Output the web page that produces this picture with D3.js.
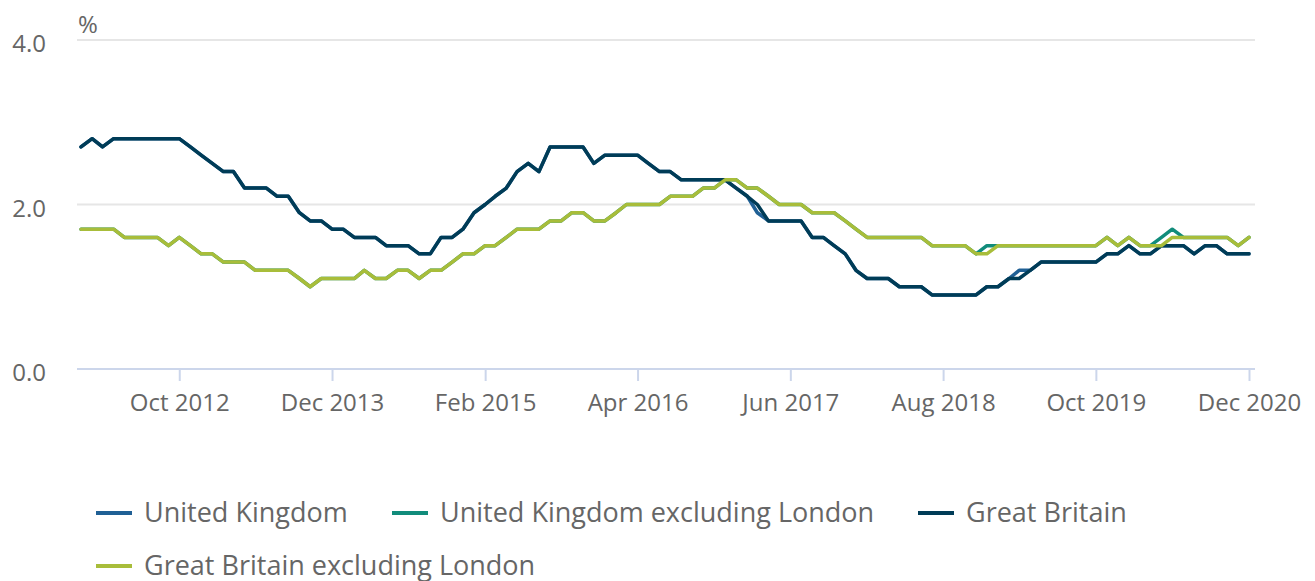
<!DOCTYPE html>
<html>
<head>
<meta charset="utf-8">
<script src="https://cdn.jsdelivr.net/npm/d3@7/dist/d3.min.js"></script>
<style>
  body { margin: 0; background: #fff; }
  text { font-family: "Open Sans", sans-serif; fill: #666; }
</style>
</head>
<body>
<div id="main"></div>
<script>
const W = 1315, H = 581;

// monthly, Jan 2012 .. Dec 2020
const firstMonth = "Jan 2012";
const lastMonth = "Dec 2020";

const gb = [
  2.7, 2.8, 2.7, 2.8, 2.8, 2.8, 2.8, 2.8, 2.8, 2.8, 2.7, 2.6,
  2.5, 2.4, 2.4, 2.2, 2.2, 2.2, 2.1, 2.1, 1.9, 1.8, 1.8, 1.7,
  1.7, 1.6, 1.6, 1.6, 1.5, 1.5, 1.5, 1.4, 1.4, 1.6, 1.6, 1.7,
  1.9, 2.0, 2.1, 2.2, 2.4, 2.5, 2.4, 2.7, 2.7, 2.7, 2.7, 2.5,
  2.6, 2.6, 2.6, 2.6, 2.5, 2.4, 2.4, 2.3, 2.3, 2.3, 2.3, 2.3,
  2.2, 2.1, 2.0, 1.8, 1.8, 1.8, 1.8, 1.6, 1.6, 1.5, 1.4, 1.2,
  1.1, 1.1, 1.1, 1.0, 1.0, 1.0, 0.9, 0.9, 0.9, 0.9, 0.9, 1.0,
  1.0, 1.1, 1.1, 1.2, 1.3, 1.3, 1.3, 1.3, 1.3, 1.3, 1.4, 1.4,
  1.5, 1.4, 1.4, 1.5, 1.5, 1.5, 1.4, 1.5, 1.5, 1.4, 1.4, 1.4
];

const uk = [
  2.7, 2.8, 2.7, 2.8, 2.8, 2.8, 2.8, 2.8, 2.8, 2.8, 2.7, 2.6,
  2.5, 2.4, 2.4, 2.2, 2.2, 2.2, 2.1, 2.1, 1.9, 1.8, 1.8, 1.7,
  1.7, 1.6, 1.6, 1.6, 1.5, 1.5, 1.5, 1.4, 1.4, 1.6, 1.6, 1.7,
  1.9, 2.0, 2.1, 2.2, 2.4, 2.5, 2.4, 2.7, 2.7, 2.7, 2.7, 2.5,
  2.6, 2.6, 2.6, 2.6, 2.5, 2.4, 2.4, 2.3, 2.3, 2.3, 2.3, 2.3,
  2.2, 2.1, 1.9, 1.8, 1.8, 1.8, 1.8, 1.6, 1.6, 1.5, 1.4, 1.2,
  1.1, 1.1, 1.1, 1.0, 1.0, 1.0, 0.9, 0.9, 0.9, 0.9, 0.9, 1.0,
  1.0, 1.1, 1.2, 1.2, 1.3, 1.3, 1.3, 1.3, 1.3, 1.3, 1.4, 1.4,
  1.5, 1.4, 1.4, 1.5, 1.5, 1.5, 1.4, 1.5, 1.5, 1.4, 1.4, 1.4
];

const gbExLondon = [
  1.7, 1.7, 1.7, 1.7, 1.6, 1.6, 1.6, 1.6, 1.5, 1.6, 1.5, 1.4,
  1.4, 1.3, 1.3, 1.3, 1.2, 1.2, 1.2, 1.2, 1.1, 1.0, 1.1, 1.1,
  1.1, 1.1, 1.2, 1.1, 1.1, 1.2, 1.2, 1.1, 1.2, 1.2, 1.3, 1.4,
  1.4, 1.5, 1.5, 1.6, 1.7, 1.7, 1.7, 1.8, 1.8, 1.9, 1.9, 1.8,
  1.8, 1.9, 2.0, 2.0, 2.0, 2.0, 2.1, 2.1, 2.1, 2.2, 2.2, 2.3,
  2.3, 2.2, 2.2, 2.1, 2.0, 2.0, 2.0, 1.9, 1.9, 1.9, 1.8, 1.7,
  1.6, 1.6, 1.6, 1.6, 1.6, 1.6, 1.5, 1.5, 1.5, 1.5, 1.4, 1.4,
  1.5, 1.5, 1.5, 1.5, 1.5, 1.5, 1.5, 1.5, 1.5, 1.5, 1.6, 1.5,
  1.6, 1.5, 1.5, 1.5, 1.6, 1.6, 1.6, 1.6, 1.6, 1.6, 1.5, 1.6
];

const ukExLondon = [
  1.7, 1.7, 1.7, 1.7, 1.6, 1.6, 1.6, 1.6, 1.5, 1.6, 1.5, 1.4,
  1.4, 1.3, 1.3, 1.3, 1.2, 1.2, 1.2, 1.2, 1.1, 1.0, 1.1, 1.1,
  1.1, 1.1, 1.2, 1.1, 1.1, 1.2, 1.2, 1.1, 1.2, 1.2, 1.3, 1.4,
  1.4, 1.5, 1.5, 1.6, 1.7, 1.7, 1.7, 1.8, 1.8, 1.9, 1.9, 1.8,
  1.8, 1.9, 2.0, 2.0, 2.0, 2.0, 2.1, 2.1, 2.1, 2.2, 2.2, 2.3,
  2.3, 2.2, 2.2, 2.1, 2.0, 2.0, 2.0, 1.9, 1.9, 1.9, 1.8, 1.7,
  1.6, 1.6, 1.6, 1.6, 1.6, 1.6, 1.5, 1.5, 1.5, 1.5, 1.4, 1.5,
  1.5, 1.5, 1.5, 1.5, 1.5, 1.5, 1.5, 1.5, 1.5, 1.5, 1.6, 1.5,
  1.6, 1.5, 1.5, 1.6, 1.7, 1.6, 1.6, 1.6, 1.6, 1.6, 1.5, 1.6
];

const tickLabels = ["Oct 2012", "Dec 2013", "Feb 2015", "Apr 2016", "Jun 2017", "Aug 2018", "Oct 2019", "Dec 2020"];
const yTicks = [0, 2, 4];

const seriesNames = ["United Kingdom", "United Kingdom excluding London", "Great Britain", "Great Britain excluding London"];
const seriesValues = [uk, ukExLondon, gb, gbExLondon];
const seriesColors = ["#206095", "#118c7b", "#003c57", "#a8bd3a"];

const parseMonth = d3.timeParse("%b %Y");
const months = d3.timeMonth.range(parseMonth(firstMonth), d3.timeMonth.offset(parseMonth(lastMonth), 1));

const plot = { left: 77, right: 1255, top: 40, bottom: 369 };

const x = d3.scaleTime()
  .domain([months[0], months[months.length - 1]])
  .range([81, 1249]);

const y = d3.scaleLinear()
  .domain([0, 4])
  .range([plot.bottom, plot.top]);

const svg = d3.select("#main").append("svg")
  .attr("width", W)
  .attr("height", H);

// horizontal grid
svg.append("g")
  .selectAll("line")
  .data(yTicks.filter(d => d > 0))
  .enter()
  .append("line")
  .attr("x1", plot.left).attr("x2", plot.right)
  .attr("y1", d => y(d)).attr("y2", d => y(d))
  .attr("stroke", "#e6e6e6")
  .attr("stroke-width", 2);

// y labels
svg.append("g")
  .selectAll("text")
  .data(yTicks)
  .enter()
  .append("text")
  .attr("x", 46)
  .attr("y", d => y(d) + 12)
  .attr("text-anchor", "end")
  .style("font-size", "24px")
  .text(d => d3.format(".1f")(d));

svg.append("text")
  .attr("x", 78).attr("y", 33)
  .style("font-size", "24px")
  .text("%");

// x axis
const xAxis = d3.axisBottom(x)
  .tickValues(tickLabels.map(parseMonth))
  .tickFormat(d3.timeFormat("%b %Y"))
  .tickSize(12)
  .tickPadding(13);

const gx = svg.append("g")
  .attr("transform", `translate(0,${plot.bottom})`)
  .call(xAxis);
gx.select(".domain").remove();
gx.selectAll(".tick line").attr("stroke", "#ccd6eb").attr("stroke-width", 2);
gx.selectAll(".tick text")
  .style("font-size", "24px")
  .style("font-family", "'Open Sans', sans-serif")
  .attr("fill", "#666");
gx.append("line")
  .attr("x1", plot.left).attr("x2", plot.right)
  .attr("stroke", "#ccd6eb")
  .attr("stroke-width", 2);

// lines
const line = d3.line()
  .x((d, i) => x(months[i]))
  .y(d => y(d));

svg.append("g")
  .selectAll("path")
  .data(seriesValues)
  .enter()
  .append("path")
  .attr("d", d => line(d))
  .attr("fill", "none")
  .attr("stroke", (d, i) => seriesColors[i])
  .attr("stroke-width", 3.5)
  .attr("stroke-linejoin", "round")
  .attr("stroke-linecap", "round");

// legend
const legendPos = [[96, 513], [392, 513], [918, 513], [96, 566]];
const legend = svg.append("g")
  .selectAll("g")
  .data(seriesNames)
  .enter()
  .append("g")
  .attr("transform", (d, i) => `translate(${legendPos[i][0]},${legendPos[i][1]})`);

legend.append("line")
  .attr("x1", 0).attr("x2", 36)
  .attr("stroke", (d, i) => seriesColors[i])
  .attr("stroke-width", 4);

legend.append("text")
  .attr("x", 48)
  .attr("y", 9)
  .style("font-size", "27px")
  .text(d => d);
</script>
</body>
</html>
